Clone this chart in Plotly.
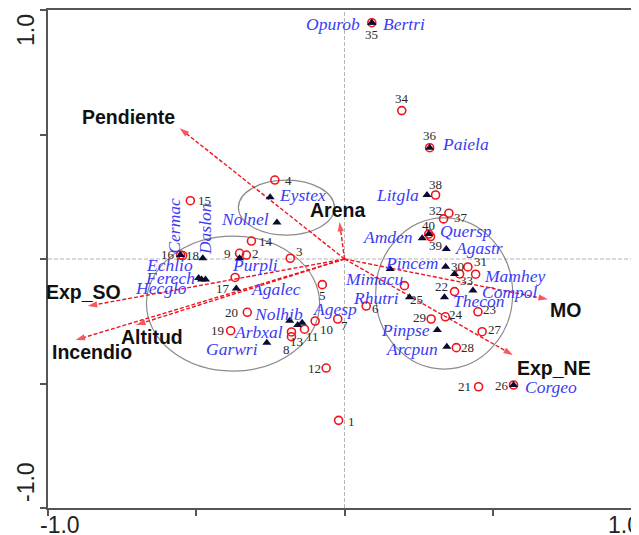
import plotly.graph_objects as go

# ---------------- data ----------------
species = ["Opurob", "Bertri", "Paiela", "Litgla", "Quersp", "Amden", "Agastr", "Pincem",
           "Mamhey", "Compol", "Thecon", "Mimacu", "Rhutri", "Pinpse", "Arcpun", "Corgeo",
           "Eystex", "Nolnel", "Cermac", "Daslon", "Echlio", "Ferech", "Hecglo", "Purpli",
           "Agalec", "Nolhib", "Arbxal", "Agesp", "Garwri"]
species_x = [0.092, 0.092, 0.287, 0.278, 0.284, 0.262, 0.343, 0.341, 0.371, 0.433, 0.337,
             0.154, 0.219, 0.313, 0.345, 0.570, -0.251, -0.228, -0.553, -0.478, -0.492,
             -0.482, -0.469, -0.354, -0.365, -0.185, -0.158, -0.143, -0.262]
species_y = [0.949, 0.949, 0.447, 0.257, 0.100, 0.083, 0.040, -0.031, -0.060, -0.127, -0.154,
             -0.040, -0.154, -0.285, -0.352, -0.506, 0.248, 0.147, 0.016, 0.003, -0.076,
             -0.082, -0.082, 0.003, -0.118, -0.248, -0.265, -0.256, -0.336]

sites = [str(i) for i in range(1, 41)]
site_x = [-0.020, -0.331, -0.183, -0.235, -0.075, 0.073, -0.023, -0.179, -0.354, -0.099,
          -0.135, -0.062, -0.179, -0.314, -0.520, -0.553, -0.369, -0.546, -0.384, -0.328,
          0.452, 0.371, 0.450, 0.340, 0.202, 0.570, 0.464, 0.377, 0.292, 0.388,
          0.416, 0.334, 0.442, 0.193, 0.092, 0.287, 0.352, 0.307, 0.290, 0.284]
site_y = [-0.648, 0.016, 0.003, 0.317, -0.103, -0.189, -0.241, -0.312, 0.023, -0.249,
          -0.282, -0.438, -0.293, 0.072, 0.234, 0.016, -0.074, 0.014, -0.288, -0.214,
          -0.513, -0.131, -0.212, -0.232, -0.107, -0.506, -0.292, -0.356, -0.241, -0.060,
          -0.032, 0.161, -0.061, 0.596, 0.949, 0.447, 0.184, 0.257, 0.090, 0.100]

env_vars = ["Pendiente", "Arena", "Exp_SO", "Altitud", "Incendio", "MO", "Exp_NE"]
env_x = [-0.556, -0.017, -0.866, -0.703, -0.907, 0.686, 0.568]
env_y = [0.525, 0.149, -0.189, -0.265, -0.325, -0.162, -0.386]

# groups (ellipses) : x0, x1, y0, y1
groups_x0 = [-0.358, -0.668, 0.105]
groups_x1 = [-0.034, -0.084, 0.567]
groups_y0 = [0.096, -0.450, -0.442]
groups_y1 = [0.317, 0.092, 0.165]

axis_tick_labels = ["-1.0", "1.0"]

# ---------------- label placement (pixel offsets, style only) ----------------
sp_style = {
    "Opurob": ("right", -10, 1, 0), "Bertri": ("left", 9, 1, 0), "Paiela": ("left", 10, -4, 0),
    "Litgla": ("right", -6, 0, 0), "Quersp": ("left", 9, -3, 0), "Amden": ("right", -7, -1, 0),
    "Agastr": ("left", 7, -1, 0), "Pincem": ("right", -6, -4, 0), "Mamhey": ("left", 27, 2, 0),
    "Compol": ("left", 7, 1, 0), "Thecon": ("left", 7, 4, 0), "Mimacu": ("center", -16, 10, 0),
    "Rhutri": ("right", -8, 1, 0), "Pinpse": ("right", -5, 0, 0), "Arcpun": ("right", -7, 2, 0),
    "Corgeo": ("left", 9, 2, 0), "Eystex": ("left", 7, -2, 0), "Nolnel": ("right", -6, -3, 0),
    "Cermac": ("center", -7, -29, -90), "Daslon": ("center", 2, -29, -90),
    "Echlio": ("right", -4, -13, 0), "Ferech": ("right", -5, -1, 0), "Hecglo": ("right", -16, 9, 0),
    "Purpli": ("left", -10, 7, 0), "Agalec": ("left", 13, 1, 0), "Nolhib": ("left", -38, -7, 0),
    "Arbxal": ("right", -13, 7, 0), "Agesp": ("left", 9, -14, 0), "Garwri": ("right", -7, 6, 0),
}
site_off = {
    1: (13, 1), 2: (9, -2), 3: (9, -7), 4: (14, 0), 5: (0, 11), 6: (9, 2), 7: (7, 6), 8: (-5, 13),
    9: (-12, 0), 10: (11, 8), 11: (8, 7), 12: (-12, 0), 13: (5, 10), 14: (15, 0), 15: (14, 0),
    16: (-13, -1), 17: (-12, 11), 18: (10, 0), 19: (-13, 0), 20: (-16, 0), 21: (-14, 0),
    22: (-13, -5), 23: (12, -2), 24: (11, -2), 25: (12, 14), 26: (-12, 1), 27: (13, -2),
    28: (11, 0), 29: (-12, -2), 30: (-2, -7), 31: (13, -5), 32: (-8, -8), 33: (-9, 6),
    34: (0, -12), 35: (0, 12), 36: (0, -12), 37: (12, 4), 38: (0, -11), 39: (5, 9), 40: (0, -9),
}
env_off = {
    "Pendiente": (-51, -11), "Arena": (-2, -12), "Exp_SO": (-4, -14), "Altitud": (16, 12),
    "Incendio": (16, 12), "MO": (18, 11), "Exp_NE": (41, 13),
}

RED = "#f0141e"
BLUE = "#3c3cf5"

fig = go.Figure()

# arrows
for name, ex, ey in zip(env_vars, env_x, env_y):
    fig.add_trace(go.Scatter(
        x=[0, ex], y=[0, ey], mode="lines+markers",
        line=dict(color=RED, width=1.4, dash="4px,2px"),
        marker=dict(symbol="arrow", size=[0, 10], color=RED, angleref="previous",
                    line=dict(width=0)),
        hoverinfo="skip", showlegend=False))

# sites (open red circles)
fig.add_trace(go.Scatter(
    x=site_x, y=site_y, mode="markers",
    marker=dict(symbol="circle-open", size=8, color=RED, line=dict(width=1.6, color=RED)),
    showlegend=False, hoverinfo="skip"))

# species (dark triangles)
fig.add_trace(go.Scatter(
    x=species_x, y=species_y, mode="markers",
    marker=dict(symbol="triangle-up", size=8, color="#0a0a30"),
    showlegend=False, hoverinfo="skip"))

annotations = []
for name, sx, sy in zip(species, species_x, species_y):
    xa, dx, dy, ang = sp_style[name]
    annotations.append(dict(
        x=sx, y=sy, xref="x", yref="y", text="<i>" + name + "</i>", showarrow=False,
        xanchor=xa, yanchor="middle", xshift=dx, yshift=-dy, textangle=ang,
        font=dict(family="Liberation Serif", size=17.5, color=BLUE)))

for lab, sx, sy in zip(sites, site_x, site_y):
    dx, dy = site_off[int(lab)]
    annotations.append(dict(
        x=sx, y=sy, xref="x", yref="y", text=lab, showarrow=False,
        xanchor="center", yanchor="middle", xshift=dx, yshift=-dy,
        font=dict(family="Liberation Serif", size=13, color="#2a2a2a")))

for name, ex, ey in zip(env_vars, env_x, env_y):
    dx, dy = env_off[name]
    annotations.append(dict(
        x=ex, y=ey, xref="x", yref="y", text="<b>" + name + "</b>", showarrow=False,
        xanchor="center", yanchor="middle", xshift=dx, yshift=-dy,
        font=dict(family="Liberation Sans", size=19.5, color="#111111")))

tick_font = dict(family="Liberation Sans", size=23, color="#222222")
annotations += [
    dict(x=0, y=0, xref="paper", yref="paper", text=axis_tick_labels[0], showarrow=False,
         xanchor="left", yanchor="middle", xshift=-10, yshift=-17, font=tick_font),
    dict(x=1, y=0, xref="paper", yref="paper", text=axis_tick_labels[1], showarrow=False,
         xanchor="left", yanchor="middle", xshift=-33, yshift=-17, font=tick_font),
    dict(x=0, y=1, xref="paper", yref="paper", text=axis_tick_labels[1], showarrow=False,
         xanchor="center", yanchor="top", xshift=-22, yshift=-2, textangle=-90, font=tick_font),
    dict(x=0, y=0, xref="paper", yref="paper", text=axis_tick_labels[0], showarrow=False,
         xanchor="center", yanchor="bottom", xshift=-22, yshift=4, textangle=-90, font=tick_font),
]

shapes = [
    dict(type="line", xref="x", yref="y", x0=0, x1=0, y0=-1, y1=1, layer="below",
         line=dict(color="#b4b4b4", width=1, dash="4px,2px")),
    dict(type="line", xref="x", yref="y", x0=-1, x1=1, y0=0, y1=0, layer="below",
         line=dict(color="#b4b4b4", width=1, dash="4px,2px")),
]
for x0, x1, y0, y1 in zip(groups_x0, groups_x1, groups_y0, groups_y1):
    shapes.append(dict(type="circle", xref="x", yref="y", x0=x0, x1=x1, y0=y0, y1=y1,
                       layer="below", line=dict(color="#8c8c8c", width=1.2)))

# page body has an 8px default margin: size the figure so it fills the 639x535 window
fig.update_layout(
    width=631, height=527,
    margin=dict(l=40, r=0, t=2, b=27),
    paper_bgcolor="white", plot_bgcolor="white",
    showlegend=False,
    annotations=annotations, shapes=shapes,
    xaxis=dict(range=[-1, 0.993], showgrid=False, zeroline=False, showline=True,
               linecolor="#555555", linewidth=2, mirror=True, ticks="outside",
               tickvals=[-1, -0.5, 0, 0.5, 1], ticklen=6, tickwidth=1.5, tickcolor="#555555",
               showticklabels=False, fixedrange=True),
    yaxis=dict(range=[-1, 1], showgrid=False, zeroline=False, showline=True,
               linecolor="#555555", linewidth=2, ticks="outside",
               tickvals=[-1, -0.5, 0, 0.5, 1], ticklen=6, tickwidth=1.5, tickcolor="#555555",
               showticklabels=False, fixedrange=True),
)

fig.write_html("out.html")
